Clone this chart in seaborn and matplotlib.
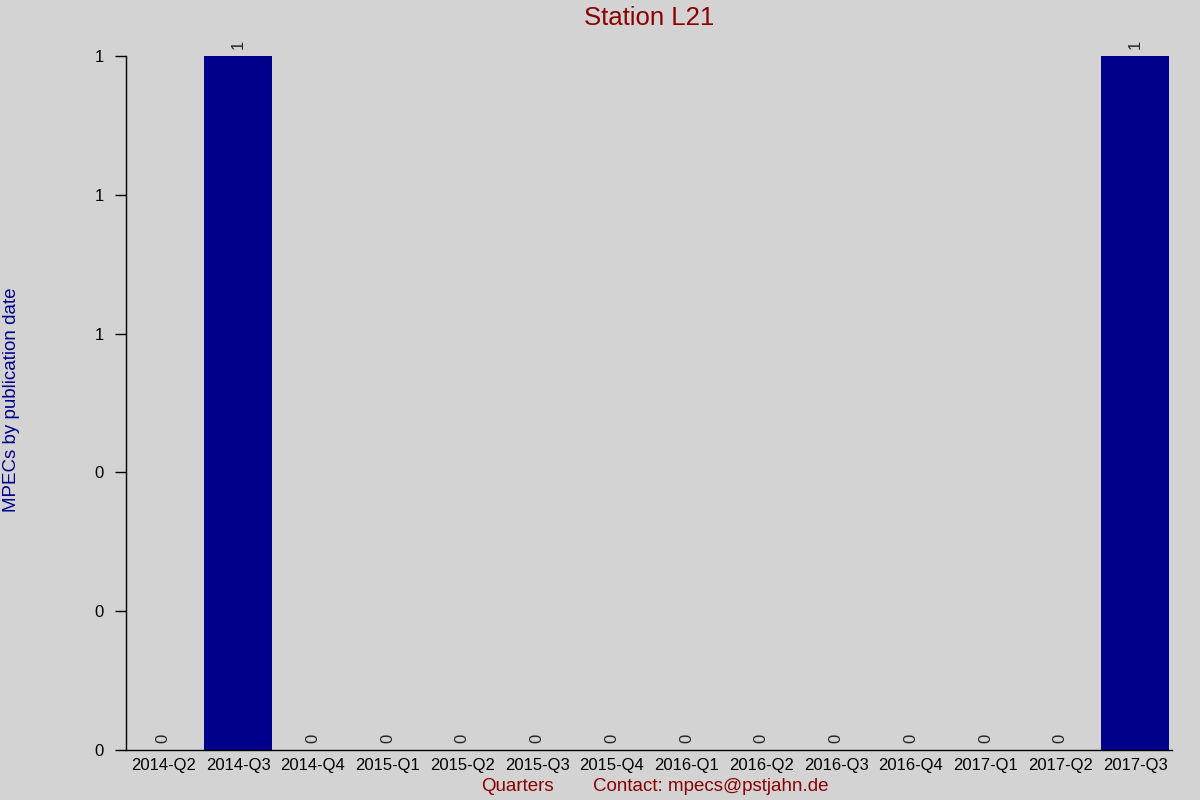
import matplotlib
matplotlib.use('Agg')
import matplotlib.pyplot as plt
import seaborn as sns
import pandas as pd
from matplotlib.ticker import FormatStrFormatter

# --- データ ---
quarters = ['2014-Q2', '2014-Q3', '2014-Q4', '2015-Q1', '2015-Q2', '2015-Q3',
            '2015-Q4', '2016-Q1', '2016-Q2', '2016-Q3', '2016-Q4', '2017-Q1',
            '2017-Q2', '2017-Q3']
mpec_counts = [0, 1, 0, 0, 0, 0, 0, 0, 0, 0, 0, 0, 0, 1]
y_ticks = [0, 0.2, 0.4, 0.6, 0.8, 1.0]

bg = '#d3d3d3'
sns.set_theme(style='ticks')
plt.rcParams['font.family'] = ['Liberation Sans', 'DejaVu Sans']

df = pd.DataFrame({'quarter': quarters, 'count': mpec_counts})

fig = plt.figure(figsize=(12, 8), dpi=100, facecolor=bg)
ax = fig.add_axes([0.105, 0.0625, 0.872, 0.8675])
ax.set_facecolor(bg)

sns.barplot(data=df, x='quarter', y='count', color='#00008b', saturation=1,
            width=0.92, linewidth=0, ax=ax)

# 値ラベル（90度回転）
for cont in ax.containers:
    ax.bar_label(cont, fmt='%d', rotation=90, padding=5, fontsize=12,
                 clip_on=False)

ax.set_xlim(-0.5, len(quarters) - 0.5)
ax.set_ylim(0, 1)
ax.set_yticks(y_ticks)
ax.yaxis.set_major_formatter(FormatStrFormatter('%.0f'))
ax.tick_params(axis='y', length=8, width=1, color='black', labelsize=12,
               labelcolor='black', pad=8)
ax.tick_params(axis='x', length=0, labelsize=12, labelcolor='black', pad=6)

for side in ['top', 'right']:
    ax.spines[side].set_visible(False)
for side in ['left', 'bottom']:
    ax.spines[side].set_color('black')
    ax.spines[side].set_linewidth(1)

ax.set_xlabel('')
ax.set_ylabel('')
fig.text(0.541, 0.977, 'Station L21', ha='center', va='center',
         fontsize=18.5, color='#8b0000')
fig.text(0.01, 0.5, 'MPECs by publication date', rotation=90, ha='center',
         va='center', fontsize=13.5, color='#00008b')
fig.text(0.431, 0.017, 'Quarters', ha='center', va='center',
         fontsize=13.5, color='#8b0000')
fig.text(0.592, 0.017, 'Contact: mpecs@pstjahn.de', ha='center', va='center',
         fontsize=13.5, color='#8b0000')

fig.savefig('out.png', dpi=100, facecolor=bg)
